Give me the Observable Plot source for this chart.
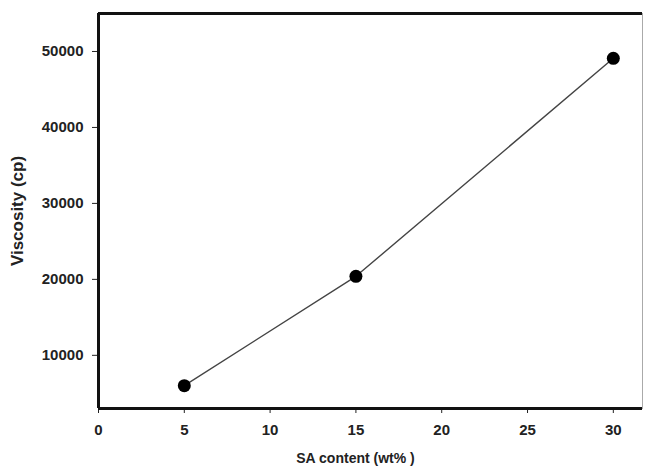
<!DOCTYPE html>
<html>
<head>
<meta charset="utf-8">
<script src="https://cdn.jsdelivr.net/npm/d3@7"></script>
<script src="https://cdn.jsdelivr.net/npm/@observablehq/plot@0.6"></script>
<style>
  html, body { margin: 0; padding: 0; background: #fff; }
  #chart svg { display: block; }
</style>
</head>
<body>
<div id="chart"></div>
<script>
const saContent = [5, 15, 30];
const viscosity = [6000, 20400, 49100];
const xDomain = [0, 31.7];
const yDomain = [3000, 55000];
const xTicks = [0, 5, 10, 15, 20, 25, 30];
const yTicks = [10000, 20000, 30000, 40000, 50000];
const xLabel = "SA content (wt% )";
const yLabel = "Viscosity (cp)";

const data = saContent.map((x, i) => ({x, y: viscosity[i]}));

const chart = Plot.plot({
  width: 647,
  height: 472,
  marginTop: 13,
  marginBottom: 64,
  marginLeft: 98,
  marginRight: 5,
  style: {fontFamily: "'Liberation Sans', Arial, sans-serif", fontWeight: "bold", fontSize: "15px", color: "#222", background: "#fff"},
  x: {domain: xDomain, ticks: xTicks, tickFormat: d => String(d)},
  y: {domain: yDomain, ticks: yTicks, tickFormat: d => String(d)},
  marks: [
    Plot.frame({stroke: "#aaa", strokeWidth: 1}),
    Plot.axisX({ticks: xTicks, tickSize: 5, tickPadding: 11, label: null, tickFormat: d => String(d), stroke: "#222"}),
    Plot.axisY({ticks: yTicks, tickSize: 6, tickPadding: 9, label: null, tickFormat: d => String(d), stroke: "#222"}),
    Plot.ruleX([xDomain[0]], {stroke: "#111", strokeWidth: 3}),
    Plot.ruleY([yDomain[0]], {stroke: "#111", strokeWidth: 3}),
    Plot.ruleY([yDomain[1]], {stroke: "#111", strokeWidth: 3}),
    Plot.line(data, {x: "x", y: "y", stroke: "#444", strokeWidth: 1.4}),
    Plot.dot(data, {x: "x", y: "y", r: 6.5, fill: "#000", stroke: "none"}),
    Plot.text([xLabel], {frameAnchor: "bottom", text: d => d, dx: -15, dy: 54, fontSize: 14, fontWeight: "bold", fill: "#222"}),
    Plot.text([yLabel], {frameAnchor: "left", textAnchor: "middle", text: d => d, dx: -81, rotate: -90, fontSize: 17, fontWeight: "bold", fill: "#222"})
  ]
});
document.getElementById("chart").append(chart);
</script>
</body>
</html>
